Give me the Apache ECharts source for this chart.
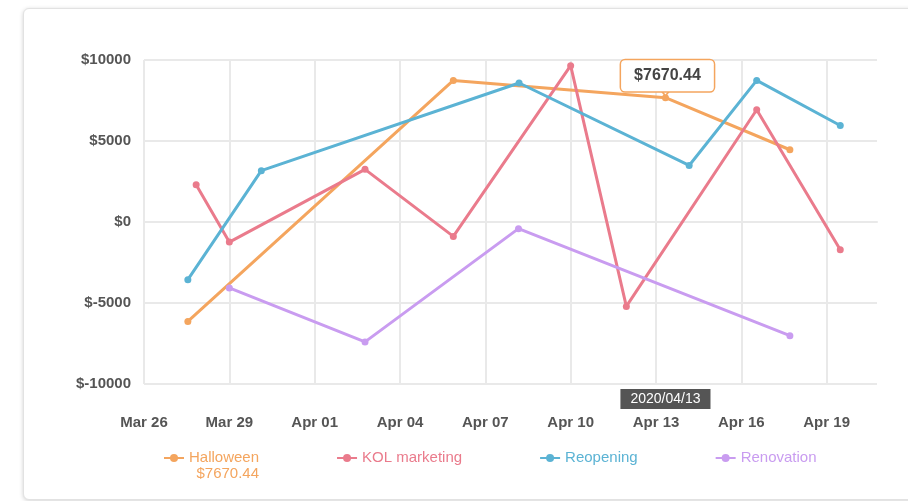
<!DOCTYPE html>
<html>
<head>
<meta charset="utf-8">
<script src="https://cdn.jsdelivr.net/npm/echarts@6/dist/echarts.min.js"></script>
<style>
  html, body { margin: 0; padding: 0; background: #ffffff; width: 908px; height: 501px; overflow: hidden; }
  #card { position: absolute; left: 23px; top: 8px; width: 910px; height: 490px; border: 1px solid #e2e2e2; border-radius: 6px; box-shadow: 0 1px 4px rgba(0,0,0,0.18); background: #fff; }
  #chart { position: absolute; left: 0; top: 0; width: 908px; height: 501px; }
</style>
</head>
<body>
<div id="card"></div>
<div id="chart"></div>
<script>
// ---- data ----
const seriesNames = ['Halloween', 'KOL marketing', 'Reopening', 'Renovation'];
const seriesColors = ['#f4a55e', '#ea7b8c', '#5bb3d4', '#c99cf0'];

const halloweenDates = ['2020-03-27 13:00', '2020-04-05 21:00', '2020-04-13 08:00', '2020-04-17 17:00'];
const halloweenValues = [-6140, 8740, 7670.44, 4460];

const kolDates = ['2020-03-27 20:00', '2020-03-29 00:00', '2020-04-02 18:30', '2020-04-05 21:00', '2020-04-10 00:00', '2020-04-11 23:00', '2020-04-16 13:00', '2020-04-19 11:30'];
const kolValues = [2300, -1240, 3250, -890, 9650, -5210, 6930, -1710];

const reopeningDates = ['2020-03-27 13:00', '2020-03-30 03:00', '2020-04-08 04:30', '2020-04-14 04:00', '2020-04-16 13:00', '2020-04-19 11:30'];
const reopeningValues = [-3560, 3170, 8580, 3490, 8740, 5960];

const renovationDates = ['2020-03-29 00:00', '2020-04-02 18:30', '2020-04-08 04:00', '2020-04-17 17:00'];
const renovationValues = [-4070, -7400, -410, -7020];

const axisStartDate = '2020-03-26 00:00';
const axisEndDate = '2020-04-20 18:30';
const tickStepDays = 3;
const yTicks = [-10000, -5000, 0, 5000, 10000];
const monthNames = ['Jan','Feb','Mar','Apr','May','Jun','Jul','Aug','Sep','Oct','Nov','Dec'];

const highlightSeries = 0;   // Halloween
const highlightIndex = 2;    // Apr 13 point

// ---- helpers ----
function parseUTC(s) {
  const [d, t] = s.split(' ');
  const [Y, M, D] = d.split('-').map(Number);
  const [h, m] = (t || '00:00').split(':').map(Number);
  return Date.UTC(Y, M - 1, D, h, m);
}
const DAY = 86400000;
const base = parseUTC(axisStartDate);
function toDay(s) { return (parseUTC(s) - base) / DAY; }
function pad2(n) { return (n < 10 ? '0' : '') + n; }
function dayLabel(v) {
  const d = new Date(base + v * DAY);
  return monthNames[d.getUTCMonth()] + ' ' + pad2(d.getUTCDate());
}
function fullDate(v) {
  const d = new Date(base + v * DAY);
  return d.getUTCFullYear() + '/' + pad2(d.getUTCMonth() + 1) + '/' + pad2(d.getUTCDate());
}
function pairs(dates, vals) { return dates.map((d, i) => [toDay(d), vals[i]]); }

const allData = [
  pairs(halloweenDates, halloweenValues),
  pairs(kolDates, kolValues),
  pairs(reopeningDates, reopeningValues),
  pairs(renovationDates, renovationValues)
];
const hiPoint = allData[highlightSeries][highlightIndex];
const money = v => '$' + v;

const FONT = "'Liberation Sans', Arial, sans-serif";
const gridColor = '#e9e9e9';

const series = seriesNames.map((name, i) => {
  const s = {
    name: name,
    type: 'line',
    data: allData[i],
    color: seriesColors[i],
    symbol: 'circle',
    symbolSize: 7,
    showSymbol: true,
    lineStyle: { width: 3, color: seriesColors[i] },
    itemStyle: { color: seriesColors[i] },
    z: 2
  };
  if (i === highlightSeries) {
    s.markPoint = {
      animation: false,
      silent: true,
      z: 10,
      data: [
        {
          coord: hiPoint,
          symbol: 'circle',
          symbolSize: 1,
          itemStyle: { color: 'rgba(0,0,0,0)' },
          label: {
            show: true,
            position: 'inside',
            offset: [2, -22],
            formatter: money(hiPoint[1]),
            backgroundColor: '#ffffff',
            borderColor: seriesColors[i],
            borderWidth: 1.5,
            borderRadius: 4,
            padding: [8, 13, 7, 13],
            color: '#444',
            fontFamily: FONT,
            fontWeight: 'bold',
            fontSize: 16
          }
        },
        {
          coord: hiPoint,
          symbol: 'triangle',
          symbolRotate: 180,
          symbolSize: [10, 6],
          symbolOffset: [0, -5],
          itemStyle: { color: '#ffffff', borderColor: seriesColors[i], borderWidth: 1.5 },
          label: { show: false }
        }
      ]
    };
  }
  return s;
});

const chart = echarts.init(document.getElementById('chart'), null, { renderer: 'canvas' });
chart.setOption({
  animation: false,
  backgroundColor: 'transparent',
  textStyle: { fontFamily: FONT },
  grid: { left: 144, right: 31, top: 60, bottom: 117, containLabel: false },
  xAxis: {
    type: 'value',
    min: 0,
    max: toDay(axisEndDate),
    interval: tickStepDays,
    axisLine: { show: true, lineStyle: { color: gridColor, width: 2 } },
    axisTick: { show: false },
    splitLine: { show: true, showMaxLine: false, lineStyle: { color: gridColor, width: 2 } },
    axisLabel: {
      show: true,
      showMaxLabel: false,
      margin: 31,
      color: '#555',
      fontWeight: 'bold',
      fontSize: 15,
      fontFamily: FONT,
      formatter: dayLabel
    },
    axisPointer: {
      show: true,
      status: 'show',
      value: hiPoint[0],
      snap: false,
      triggerTooltip: false,
      type: 'line',
      lineStyle: { color: 'rgba(0,0,0,0)', width: 0 },
      label: {
        show: true,
        formatter: p => fullDate(p.value),
        backgroundColor: '#555',
        color: '#fff',
        fontFamily: FONT,
        fontSize: 14,
        padding: [3, 10],
        borderRadius: 0,
        margin: 5
      }
    }
  },
  yAxis: {
    type: 'value',
    min: yTicks[0],
    max: yTicks[yTicks.length - 1],
    interval: yTicks[1] - yTicks[0],
    axisLine: { show: false },
    axisTick: { show: false },
    splitLine: { show: true, lineStyle: { color: gridColor, width: 2 } },
    axisLabel: {
      margin: 13,
      color: '#555',
      fontWeight: 'bold',
      fontSize: 15,
      fontFamily: FONT,
      formatter: money
    }
  },
  legend: {
    left: 158,
    top: 429,
    itemGap: 77,
    itemWidth: 20,
    itemHeight: 10,
    selectedMode: false,
    data: seriesNames.map((n, i) => {
      const item = { name: n, textStyle: { color: seriesColors[i], fontSize: 15, fontFamily: FONT } };
      if (i === highlightSeries) {
        item.textStyle.padding = [16, 0, 0, 0];
        item.textStyle.lineHeight = 16;
        item.textStyle.rich = { v: { align: 'right', color: seriesColors[i], fontSize: 15, fontFamily: FONT, lineHeight: 16 } };
      }
      return item;
    }),
    formatter: name => name === seriesNames[highlightSeries] ? name + '\n{v|' + money(hiPoint[1]) + '}' : name
  },
  series: series
});
</script>
</body>
</html>
